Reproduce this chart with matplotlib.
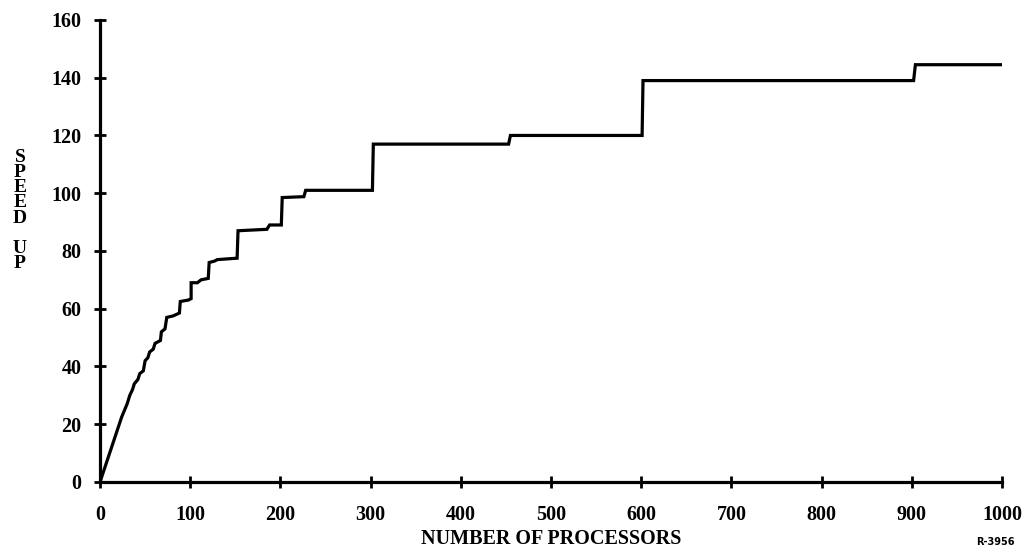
import matplotlib.pyplot as plt

# speed up against number of processors (vertices)
procesadores = [0, 24, 30, 33, 36, 38, 42, 44, 48, 50, 53, 55, 59, 61, 67, 68, 72, 74,
                81, 88, 89, 98, 101, 101, 108, 112, 120, 121, 127, 130, 152, 153,
                185, 188, 201, 202, 226, 228, 302, 303, 453, 455, 601, 602, 902, 904, 1000]
speedup = [0, 22.5, 27, 30, 32, 34, 35.5, 37.5, 38.5, 42, 43, 45, 46, 48, 49, 52, 53, 57,
           57.5, 58.5, 62.5, 63, 63.5, 69, 69, 70, 70.5, 76, 76.5, 77, 77.5, 87,
           87.5, 89, 89, 98.5, 98.8, 101, 101, 117, 117, 120, 120, 139, 139, 144.5, 144.5]

xticks = list(range(0, 1001, 100))
yticks = list(range(0, 161, 20))

plt.rcParams['font.family'] = ['Liberation Serif', 'DejaVu Serif']

fig = plt.figure(figsize=(10.28, 5.54), dpi=100)
ax = fig.add_axes([0.0973, 0.130, 0.8774, 0.834])

ax.plot(procesadores, speedup, color='black', linewidth=2.3, solid_joinstyle='miter')

ax.set_xlim(0, 1000)
ax.set_ylim(0, 160)
ax.set_xticks(xticks)
ax.set_yticks(yticks)
ax.set_xticklabels([str(t) for t in xticks], fontsize=14.5, fontweight='bold')
ax.set_yticklabels([str(t) for t in yticks], fontsize=14.5, fontweight='bold')

for s in ['top', 'right']:
    ax.spines[s].set_visible(False)
for s in ['left', 'bottom']:
    ax.spines[s].set_linewidth(2.3)
    ax.spines[s].set_color('black')

ax.tick_params(axis='both', direction='inout', length=9, width=2, color='black')
ax.tick_params(axis='x', pad=12)
ax.tick_params(axis='y', pad=9)

ax.set_xlabel('NUMBER OF PROCESSORS', fontsize=14.5, fontweight='bold', labelpad=3)
fig.text(0.0195, 0.62, 'S\nP\nE\nE\nD\n\nU\nP', fontsize=14, fontweight='bold',
         ha='center', va='center', linespacing=0.86)
fig.text(0.968, 0.022, 'R-3956', fontsize=7, fontweight='bold', family='DejaVu Sans',
         ha='center', va='center')

fig.savefig('out.png', dpi=100)
